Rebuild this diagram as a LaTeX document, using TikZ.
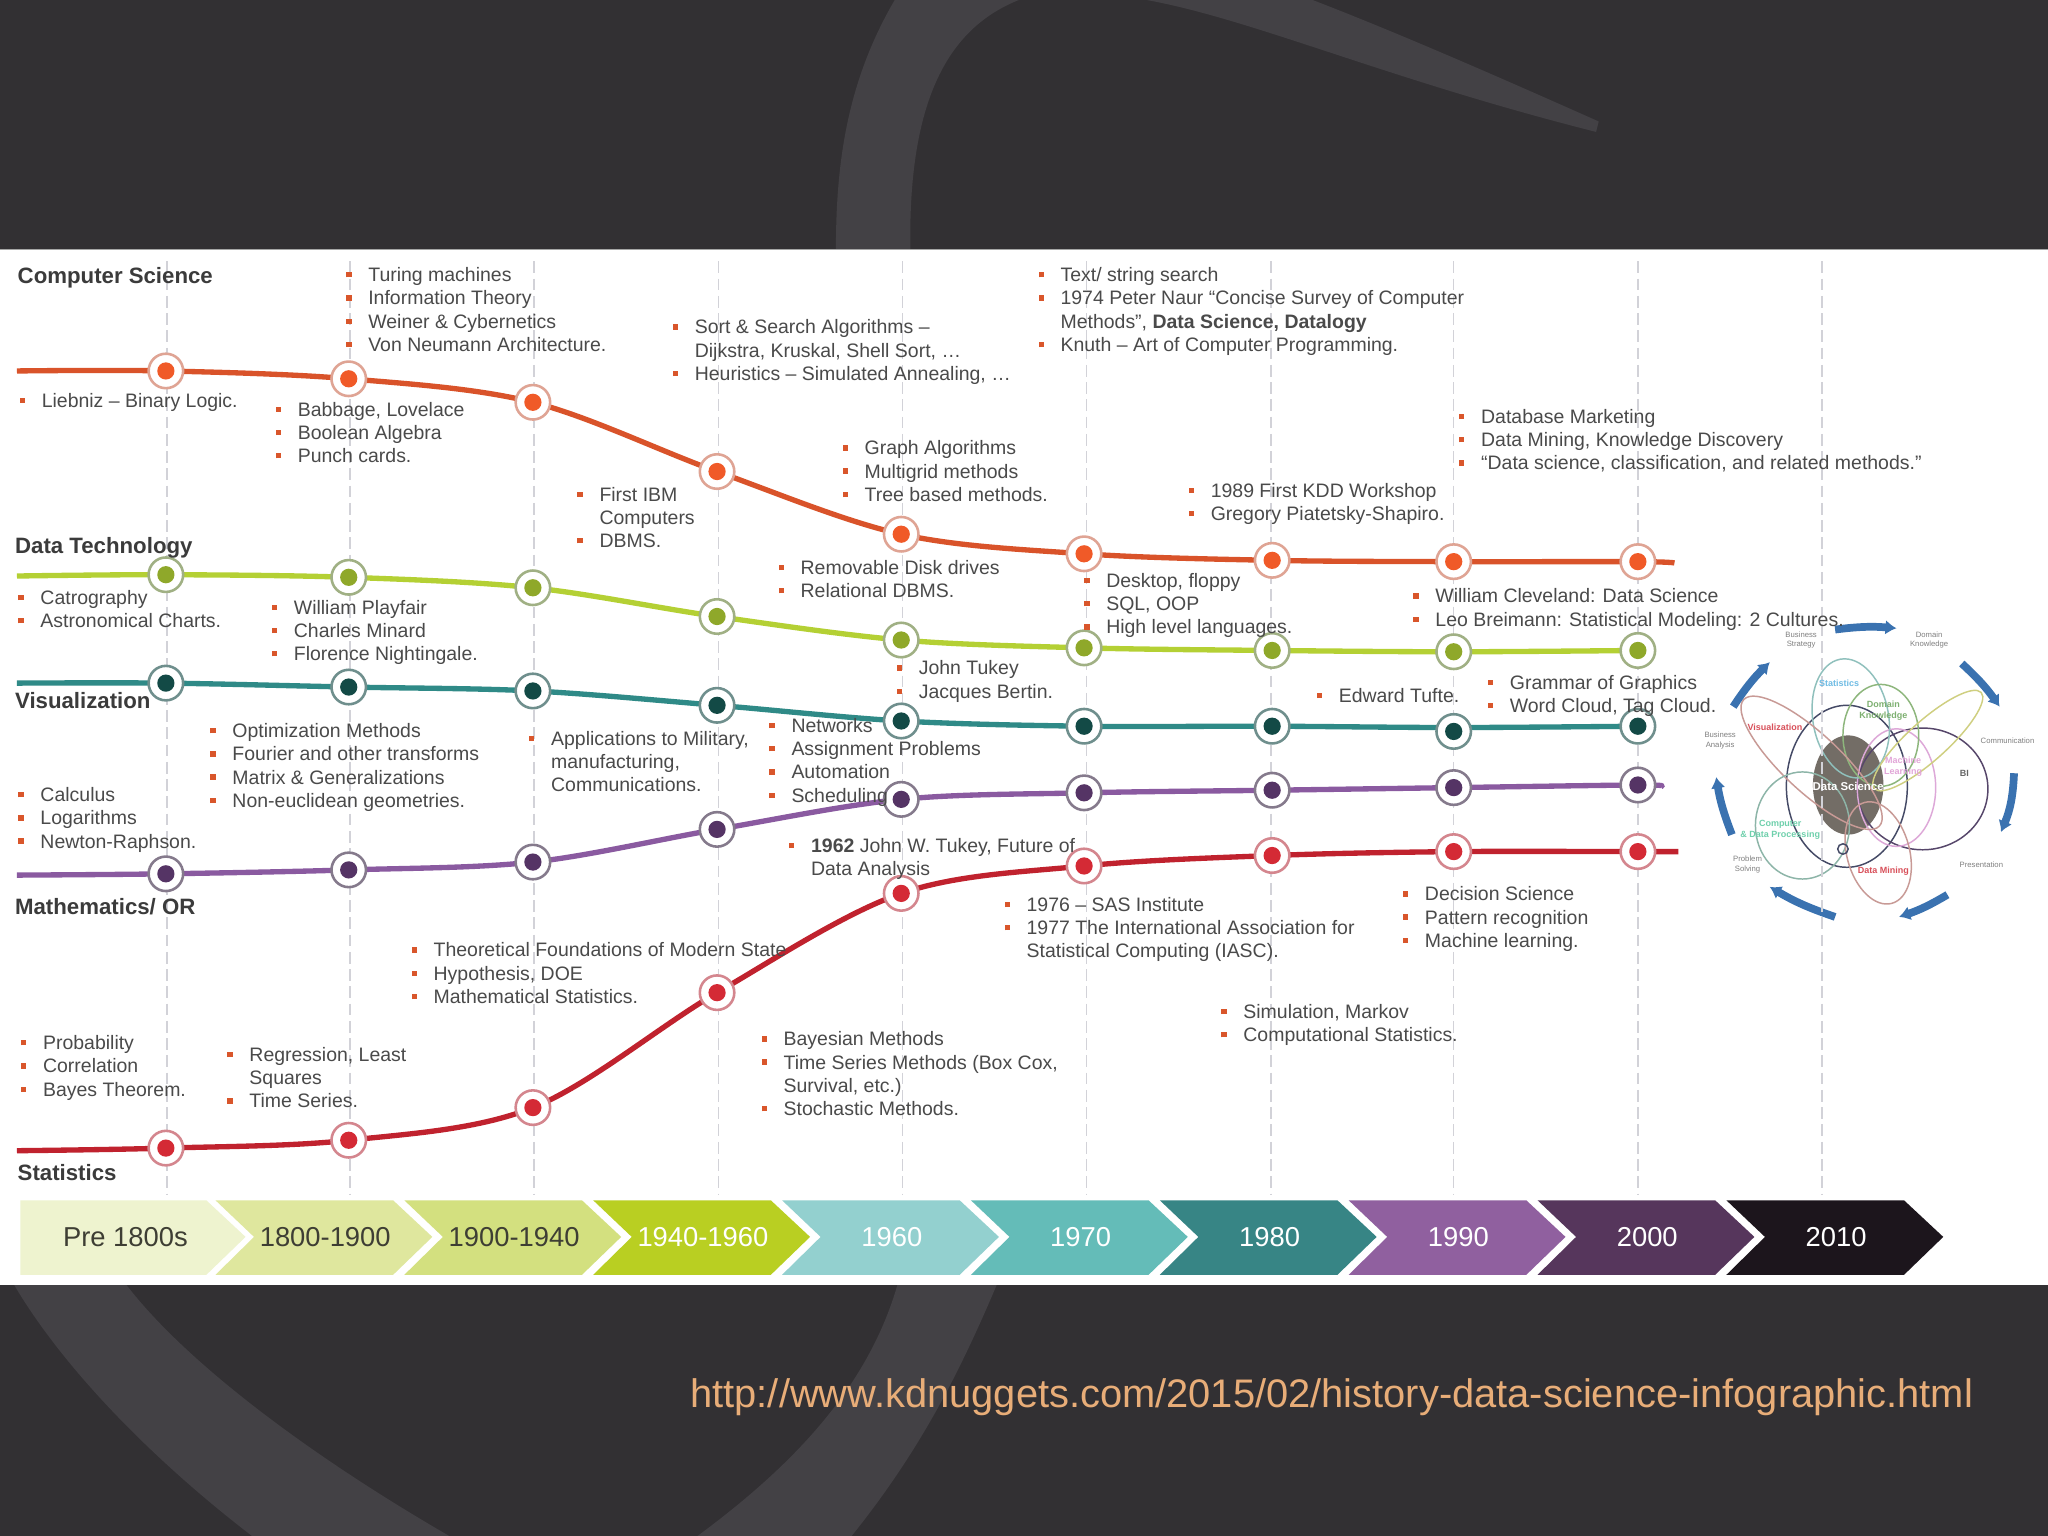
\documentclass[tikz,border=0pt]{standalone}
\usepackage{fontspec}
\setmainfont{Liberation Sans}
\usetikzlibrary{arrows.meta, backgrounds}
\definecolor{slide}{HTML}{323033}
\definecolor{swoosh}{HTML}{434145}
\definecolor{inktext}{HTML}{4A4A4A}
\definecolor{bullet}{HTML}{D9562B}
\definecolor{urltext}{HTML}{E8AD78}
\definecolor{guide}{HTML}{D2D2D8}
\definecolor{csline}{HTML}{D9532A}
\definecolor{csdot}{HTML}{F05A28}
\definecolor{csring}{HTML}{DFA494}
\definecolor{dtline}{HTML}{B4D034}
\definecolor{dtdot}{HTML}{8FA82A}
\definecolor{dtring}{HTML}{A0B084}
\definecolor{vzline}{HTML}{2F8A87}
\definecolor{vzdot}{HTML}{134A46}
\definecolor{vzring}{HTML}{6F8F8D}
\definecolor{mtline}{HTML}{8A5AA0}
\definecolor{mtdot}{HTML}{553465}
\definecolor{mtring}{HTML}{857A8C}
\definecolor{stline}{HTML}{C0222E}
\definecolor{stdot}{HTML}{D42A35}
\definecolor{string}{HTML}{D4868E}
\definecolor{vennblue}{HTML}{3A72B0}
\definecolor{vncorefill}{HTML}{736D66}
\definecolor{vnring}{HTML}{454A66}
\definecolor{vnplum}{HTML}{56466A}
\definecolor{vnpink}{HTML}{DDA8D8}
\definecolor{vnsky}{HTML}{8FC0BC}
\definecolor{vnleaf}{HTML}{8DB67C}
\definecolor{vnrose}{HTML}{C89A96}
\definecolor{vnolive}{HTML}{CFCF80}
\definecolor{vnsea}{HTML}{8DB5A8}
\definecolor{vnrosetext}{HTML}{D8505A}
\definecolor{vnskytext}{HTML}{6FBCE4}
\definecolor{vnleaftext}{HTML}{7DB070}
\definecolor{vnpinktext}{HTML}{E2A6D8}
\definecolor{vnseatext}{HTML}{6FD0AC}
\definecolor{eraa}{HTML}{EEF3CF}
\definecolor{erab}{HTML}{DFE79E}
\definecolor{erac}{HTML}{D3E07F}
\definecolor{erad}{HTML}{B9CF22}
\definecolor{erae}{HTML}{93D0CF}
\definecolor{eraf}{HTML}{64BCB8}
\definecolor{erag}{HTML}{378585}
\definecolor{erah}{HTML}{90609F}
\definecolor{erai}{HTML}{56365C}
\definecolor{eraj}{HTML}{1C151C}
\definecolor{eradark}{HTML}{3E3E34}
\tikzset{stopbase/.style 2 args={circle, draw=#1, fill=white, line width=0.7pt,
    inner sep=0pt, minimum size=0.33cm,
    path picture={\fill [#2] (path picture bounding box.center) circle (6.6);}}}
\tikzstyle{csstop} = [stopbase={csring}{csdot}]
\tikzstyle{dtstop} = [stopbase={dtring}{dtdot}]
\tikzstyle{vzstop} = [stopbase={vzring}{vzdot}]
\tikzstyle{mtstop} = [stopbase={mtring}{mtdot}]
\tikzstyle{ststop} = [stopbase={string}{stdot}]
\tikzstyle{curve} = [line width=1.45pt, line join=round]
\tikzstyle{guideline} = [draw=guide, line width=0.4pt, dash pattern=on 3.2pt off 1.5pt]
\tikzstyle{bullets} = [anchor=north west, inner sep=0pt, align=left, text=inktext,
    font=\fontsize{5.3pt}{6.33pt}\selectfont]
\tikzstyle{heading} = [anchor=west, inner sep=0pt, text=inktext!80!black,
    font=\fontsize{6.05pt}{7pt}\selectfont\bfseries]
\tikzstyle{yearlabel} = [inner sep=0pt, font=\fontsize{7.45pt}{9pt}\selectfont]
\tikzstyle{vennline} = [line width=0.4pt]
\tikzstyle{vennarrow} = [draw=vennblue, line width=2.1pt, -{Latex[length=3pt, width=4pt]}]
\tikzstyle{tinylabel} = [inner sep=0pt, align=center, text=black!50,
    font=\fontsize{2.1pt}{2.6pt}\selectfont]
\tikzstyle{vennlabel} = [inner sep=0pt, align=center,
    font=\fontsize{2.45pt}{3pt}\selectfont\bfseries]
\newcommand{\itm}{\makebox[6.2pt][l]{\hspace{0.2pt}\textcolor{bullet}{\rule[1.15pt]{1.45pt}{1.45pt}}}\rule{0pt}{4.3pt}}
\newcommand{\ind}{\hspace*{6.2pt}}
\newcommand{\guidemark}[2]{\coordinate (#1top) at (#2,200); \coordinate (#1bot) at (#2,915);
    \draw [guideline] (#1top) -- (#1bot);}
\newcommand{\chevron}[5]{\path [fill=#3] (#2,919) -- (#2+136,919) -- (#2+166,947) -- (#2+136,976)
    -- (#2,976) -- (#2+29.5,947) -- cycle;
    \node [yearlabel, text=#4] at (#2+84,947) (#1) {#5};}

\begin{document}
\begin{tikzpicture}[x=0.0125cm, y=-0.0125cm]
\useasboundingbox (0,0) rectangle (1568,1176);
\begin{scope}[on background layer]
    \fill [slide] (0,0) rectangle (1568,1176);
    \fill [swoosh] (640,191) .. controls (640,120) and (650,60) .. (685,0) -- (780,0)
        .. controls (730,20) and (695,70) .. (697,191) -- cycle;
    \fill [swoosh] (878,0) .. controls (960,15) and (1060,60) .. (1222,101) -- (1224,93)
        .. controls (1150,60) and (1070,25) .. (1005,0) -- cycle;
    \fill [swoosh] (11,984) .. controls (50,1050) and (120,1120) .. (193,1176) -- (344,1176)
        .. controls (230,1110) and (140,1040) .. (97,984) -- cycle;
    \fill [swoosh] (687,984) .. controls (665,1060) and (610,1120) .. (534,1176) -- (652,1176)
        .. controls (705,1110) and (735,1050) .. (763,984) -- cycle;
    \fill [white] (0,191) rectangle (1568,984);
    \fill [black!35] (0,190.4) rectangle (1568,191);
    \fill [vncorefill] (1415,601) ellipse (27 and 38);
    \draw [vennline, draw=vnring] (1414,602) ellipse (46.3 and 62);
    \draw [vennline, draw=vnplum] (1472,604) ellipse (50 and 46.6);
    \draw [vennline, draw=vnpink] (1452,603) ellipse (30 and 45);
    \draw [vennline, draw=vnsky, rotate around={10:(1417,550)}] (1417,550) ellipse (29 and 46);
    \draw [vennline, draw=vnleaf] (1440,563) ellipse (29 and 39);
    \draw [vennline, draw=vnrose, rotate around={-43:(1387,584)}] (1387,584) ellipse (71 and 22);
    \draw [vennline, draw=vnolive, rotate around={42:(1476,567)}] (1476,567) ellipse (55 and 15);
    \draw [vennline, draw=vnsea] (1380,632) ellipse (36 and 41);
    \draw [vennline, draw=vnrose, rotate around={15:(1438,653)}] (1438,653) ellipse (24 and 40);
    \draw [vennline, draw=vnring] (1411,650) circle (4);
    \draw [vennarrow] (1405,482) to [bend left=6] (1452,481);
    \draw [vennarrow] (1502,508) to [bend left=6] (1531,541);
    \draw [vennarrow] (1542,592) to [bend left=10] (1532,637);
    \draw [vennarrow] (1491,685) to [bend left=6] (1454,702);
    \draw [vennarrow] (1405,702) to [bend left=6] (1355,679);
    \draw [vennarrow] (1326,639) to [bend left=6] (1314,595);
    \draw [vennarrow] (1327,541) to [bend left=6] (1355,507);
    \guidemark{ga}{128}
    \guidemark{gb}{268}
    \guidemark{gc}{409}
    \guidemark{gd}{550}
    \guidemark{ge}{691}
    \guidemark{gf}{832}
    \guidemark{gg}{973}
    \guidemark{gh}{1113}
    \guidemark{gi}{1254}
    \guidemark{gj}{1395}
\end{scope}

\coordinate (csstart) at (13,284);
\coordinate (csend) at (1282,431);
\coordinate (dtstart) at (13,441);
\coordinate (vzstart) at (13,523);
\coordinate (vzbend) at (1113,557);
\coordinate (mtstart) at (13,670);
\coordinate (mtend) at (1272,602);
\coordinate (ststart) at (13,881);
\coordinate (stend) at (1285,652);

\node [csstop] at (127,284) (csa) {};
\node [csstop] at (267,290) (csb) {};
\node [csstop] at (408,308) (csc) {};
\node [csstop] at (549,361) (csd) {};
\node [csstop] at (690,409) (cse) {};
\node [csstop] at (830,424) (csf) {};
\node [csstop] at (974,429) (csg) {};
\node [csstop] at (1113,430) (csh) {};
\node [csstop] at (1254,430) (csi) {};

\node [dtstop] at (127,440) (dta) {};
\node [dtstop] at (267,442) (dtb) {};
\node [dtstop] at (408,450) (dtc) {};
\node [dtstop] at (549,472) (dtd) {};
\node [dtstop] at (690,490) (dte) {};
\node [dtstop] at (830,496) (dtf) {};
\node [dtstop] at (974,498) (dtg) {};
\node [dtstop] at (1113,499) (dth) {};
\node [dtstop] at (1254,498) (dti) {};

\node [vzstop] at (127,523) (vza) {};
\node [vzstop] at (267,526) (vzb) {};
\node [vzstop] at (408,529) (vzc) {};
\node [vzstop] at (549,540) (vzd) {};
\node [vzstop] at (690,552) (vze) {};
\node [vzstop] at (830,556) (vzf) {};
\node [vzstop] at (974,556) (vzg) {};
\node [vzstop] at (1113,560) (vzh) {};
\node [vzstop] at (1254,556) (vzi) {};

\node [mtstop] at (127,669) (mta) {};
\node [mtstop] at (267,666) (mtb) {};
\node [mtstop] at (408,660) (mtc) {};
\node [mtstop] at (549,635) (mtd) {};
\node [mtstop] at (690,612) (mte) {};
\node [mtstop] at (830,607) (mtf) {};
\node [mtstop] at (974,605) (mtg) {};
\node [mtstop] at (1113,603) (mth) {};
\node [mtstop] at (1254,601) (mti) {};

\node [ststop] at (127,879) (sta) {};
\node [ststop] at (267,873) (stb) {};
\node [ststop] at (408,848) (stc) {};
\node [ststop] at (549,760) (std) {};
\node [ststop] at (690,684) (ste) {};
\node [ststop] at (830,663) (stf) {};
\node [ststop] at (974,655) (stg) {};
\node [ststop] at (1113,652) (sth) {};
\node [ststop] at (1254,652) (sti) {};

\begin{scope}[on background layer]
    \draw [curve, csline] plot [smooth, tension=0.55] coordinates {(csstart) (csa) (csb) (csc) (csd) (cse) (csf) (csg) (csh) (csi) (csend)};
    \draw [curve, dtline] plot [smooth, tension=0.55] coordinates {(dtstart) (dta) (dtb) (dtc) (dtd) (dte) (dtf) (dtg) (dth) (dti)};
    \draw [curve, vzline] plot [smooth, tension=0.55] coordinates {(vzstart) (vza) (vzb) (vzc) (vzd) (vze) (vzf) (vzg) (vzbend) (vzi)};
    \draw [curve, mtline] plot [smooth, tension=0.55] coordinates {(mtstart) (mta) (mtb) (mtc) (mtd) (mte) (mtf) (mtg) (mth) (mti) (mtend)};
    \draw [curve, stline] plot [smooth, tension=0.55] coordinates {(ststart) (sta) (stb) (stc) (std) (ste) (stf) (stg) (sth) (sti) (stend)};
\end{scope}

\node [heading] at (13,212.5) (cshead) {Computer Science};
\node [heading] at (11,419.5) (dthead) {Data Technology};
\node [heading] at (11,536) (vzhead) {Visualization};
\node [heading] at (11,694) (mthead) {Mathematics/ OR};
\node [heading] at (13,898) (sthead) {Statistics};

\node [bullets] at (14,299) (leibniz) {\itm Liebniz – Binary Logic.};
\node [bullets] at (210,306) (babbage) {\itm Babbage, Lovelace\\\itm Boolean Algebra\\\itm Punch cards.};
\node [bullets] at (264,203) (turing) {\itm Turing machines\\\itm Information Theory\\\itm Weiner \& Cybernetics\\\itm Von Neumann Architecture.};
\node [bullets] at (441,371) (ibm) {\itm First IBM\\\ind Computers\\\itm DBMS.};
\node [bullets] at (514,243) (sorting) {\itm Sort \& Search Algorithms –\\\ind Dijkstra, Kruskal, Shell Sort, …\\\itm Heuristics – Simulated Annealing, …};
\node [bullets] at (644,335.5) (graphs) {\itm Graph Algorithms\\\itm Multigrid methods\\\itm Tree based methods.};
\node [bullets] at (794,203) (naur) {\itm Text/ string search\\\itm 1974 Peter Naur “Concise Survey of Computer\\\ind Methods”, \textbf{Data Science, Datalogy}\\\itm Knuth – Art of Computer Programming.};
\node [bullets] at (909,368) (kdd) {\itm 1989 First KDD Workshop\\\itm Gregory Piatetsky-Shapiro.};
\node [bullets] at (1116,311.5) (mining) {\itm Database Marketing\\\itm Data Mining, Knowledge Discovery\\\itm “Data science, classification, and related methods.”};

\node [bullets] at (13,450) (charts) {\itm Catrography\\\itm Astronomical Charts.};
\node [bullets] at (207,457.5) (playfair) {\itm William Playfair\\\itm Charles Minard\\\itm Florence Nightingale.};
\node [bullets] at (595,427) (disks) {\itm Removable Disk drives\\\itm Relational DBMS.};
\node [bullets] at (829,437) (floppy) {\itm Desktop, floppy\\\itm SQL, OOP\\\itm High level languages.};
\node [bullets] at (1081,449) (cleveland) {\itm William Cleveland: Data Science\\\itm Leo Breimann: Statistical Modeling: 2 Cultures.};

\node [bullets] at (685.5,504) (tukey) {\itm John Tukey\\\itm Jacques Bertin.};
\node [bullets] at (1007,525) (tufte) {\itm Edward Tufte.};
\node [bullets] at (1138,515) (grammar) {\itm Grammar of Graphics\\\itm Word Cloud, Tag Cloud.};
\node [bullets] at (160,552) (fourier) {\itm Optimization Methods\\\itm Fourier and other transforms\\\itm Matrix \& Generalizations\\\itm Non-euclidean geometries.};
\node [bullets] at (404,558) (military) {\itm Applications to Military,\\\ind manufacturing,\\\ind Communications.};
\node [bullets] at (588,548) (networks) {\itm Networks\\\itm Assignment Problems\\\itm Automation\\\itm Scheduling};

\node [bullets] at (13,601) (calculus) {\itm Calculus\\\itm Logarithms\\\itm Newton-Raphson.};
\node [bullets] at (603,640) (future) {\itm \textbf{1962} John W. Tukey, Future of\\\ind Data Analysis};

\node [bullets] at (15,791) (bayes) {\itm Probability\\\itm Correlation\\\itm Bayes Theorem.};
\node [bullets] at (173,800) (regression) {\itm Regression, Least\\\ind Squares\\\itm Time Series.};
\node [bullets] at (314,720) (foundations) {\itm Theoretical Foundations of Modern State\\\itm Hypothesis, DOE\\\itm Mathematical Statistics.};
\node [bullets] at (582,788) (bayesian) {\itm Bayesian Methods\\\itm Time Series Methods (Box Cox,\\\ind Survival, etc.)\\\itm Stochastic Methods.};
\node [bullets] at (768,685) (sas) {\itm 1976 – SAS Institute\\\itm 1977 The International Association for\\\ind Statistical Computing (IASC).};
\node [bullets] at (934,767) (markov) {\itm Simulation, Markov\\\itm Computational Statistics.};
\node [bullets] at (1073,677) (learning) {\itm Decision Science\\\itm Pattern recognition\\\itm Machine learning.};

\node [tinylabel] at (1379,490) (vnstrategy) {Business\\Strategy};
\node [tinylabel] at (1477,490) (vndomain) {Domain\\Knowledge};
\node [tinylabel] at (1537,567) (vncomm) {Communication};
\node [tinylabel] at (1517,662) (vnpresent) {Presentation};
\node [tinylabel] at (1338,662) (vnsolving) {Problem\\Solving};
\node [tinylabel] at (1317,567) (vnanalysis) {Business\\Analysis};
\node [vennlabel, text=vnskytext] at (1408,523) (vnstats) {Statistics};
\node [vennlabel, text=vnleaftext] at (1442,544) (vnknow) {Domain\\Knowledge};
\node [vennlabel, text=vnrosetext] at (1359,557) (vnvis) {Visualization};
\node [vennlabel, text=vnpinktext] at (1457,587) (vnmachine) {Machine\\Learning};
\node [vennlabel, text=black!60] at (1504,592) (vnbi) {BI};
\node [vennlabel, text=white, font=\fontsize{3.1pt}{4pt}\selectfont\bfseries] at (1415,602) (vncore) {Data Science};
\node [vennlabel, text=vnseatext] at (1363,635) (vnproc) {Computer\\\& Data Processing};
\node [vennlabel, text=vnrosetext] at (1442,667) (vnmining) {Data Mining};

\path [fill=eraa] (15.6,919) -- (158,919) -- (188,947) -- (158,976) -- (15.6,976) -- cycle;
\node [yearlabel, text=eradark] at (96,947) (preera) {Pre 1800s};
\chevron{erab}{165}{erab}{eradark}{1800-1900}
\chevron{erac}{309.6}{erac}{eradark}{1900-1940}
\chevron{erad}{454.2}{erad}{white}{1940-1960}
\chevron{erae}{598.8}{erae}{white}{1960}
\chevron{eraf}{743.4}{eraf}{white}{1970}
\chevron{erag}{888}{erag}{white}{1980}
\chevron{erah}{1032.6}{erah}{white}{1990}
\chevron{erai}{1177.2}{erai}{white}{2000}
\chevron{eraj}{1321.8}{eraj}{white}{2010}

\node [anchor=west, inner sep=0pt, text=urltext, font=\fontsize{10.85pt}{13pt}\selectfont] at (528,1069.5) (url) {http://www.kdnuggets.com/2015/02/history-data-science-infographic.html};
\end{tikzpicture}
\end{document}
